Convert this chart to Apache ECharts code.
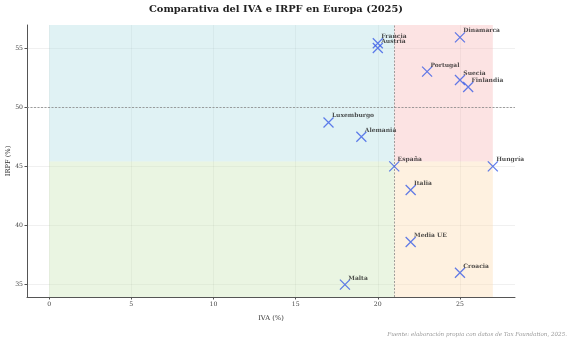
<!DOCTYPE html>
<html>
<head>
<meta charset="utf-8">
<script src="https://cdn.jsdelivr.net/npm/echarts@6/dist/echarts.min.js"></script>
<style>html,body{margin:0;padding:0;background:#fff}#c{width:576px;height:343px}</style>
</head>
<body>
<div id="c"></div>
<script>
// ---- data ----
const countries = ["Francia","Austria","Dinamarca","Portugal","Suecia","Finlandia","Luxemburgo","Alemania","España","Hungría","Italia","Media UE","Croacia","Malta"];
const iva  = [20, 20, 25, 23, 25, 25.5, 17, 19, 21, 27, 22, 22, 25, 18];
const irpf = [55.4, 55, 55.9, 53, 52.3, 51.7, 48.7, 47.5, 45, 45, 43, 38.6, 36, 35];
const xTicks = [0, 5, 10, 15, 20, 25];
const yTicks = [35, 40, 45, 50, 55];
const ivaRef = 21;      // vertical reference (España)
const irpfRef = 50;     // horizontal reference
const irpfShadeSplit = 45.4;
const shadeXMin = 0, shadeXMax = 27;
const xMin = -1.35, xMax = 28.35;
const yMin = 33.955, yMax = 56.945;

const serif = "DejaVu Serif";
const chart = echarts.init(document.getElementById('c'), null, {renderer: 'canvas'});
const pts = countries.map((n, i) => ({name: n, value: [iva[i], irpf[i]]}));

chart.setOption({
  animation: false,
  backgroundColor: '#fff',
  title: [{
    text: 'Comparativa del IVA e IRPF en Europa (2025)',
    left: 271, top: -1, textAlign: 'center',
    textStyle: {fontFamily: serif, fontWeight: 'bold', fontSize: 9.9, color: '#222'}
  }, {
    text: 'Fuente: elaboración propia con datos de Tax Foundation, 2025.',
    right: 4, top: 327,
    textStyle: {fontFamily: serif, fontStyle: 'italic', fontWeight: 'normal', fontSize: 5.6, color: '#999'}
  }],
  grid: {left: 27, right: 61, top: 25, bottom: 46, containLabel: false, outerBoundsMode: 'none'},
  xAxis: {
    type: 'value', min: xMin, max: xMax,
    name: 'IVA (%)', nameLocation: 'middle', nameGap: 18, nameMoveOverlap: false,
    nameTextStyle: {fontFamily: serif, fontSize: 6.7, color: '#333'},
    axisLine: {show: true, onZero: false, lineStyle: {color: '#555', width: 1}},
    axisTick: {show: true, length: 2.5, customValues: xTicks, lineStyle: {color: '#555'}},
    axisLabel: {customValues: xTicks, fontFamily: serif, fontSize: 6.2, color: '#444', margin: 4},
    splitLine: {show: true, lineStyle: {color: 'rgba(0,0,0,0.08)', width: 0.8}}
  },
  yAxis: {
    type: 'value', min: yMin, max: yMax,
    name: 'IRPF (%)', nameLocation: 'middle', nameGap: 15.5, nameMoveOverlap: false,
    nameTextStyle: {fontFamily: serif, fontSize: 6.7, color: '#333'},
    axisLine: {show: true, onZero: false, lineStyle: {color: '#555', width: 1}},
    axisTick: {show: true, length: 2.5, customValues: yTicks, lineStyle: {color: '#555'}},
    axisLabel: {customValues: yTicks, fontFamily: serif, fontSize: 6.2, color: '#444', margin: 4},
    splitLine: {show: true, lineStyle: {color: 'rgba(0,0,0,0.08)', width: 0.8}}
  },
  series: [{
    type: 'scatter',
    data: pts,
    symbol: 'path://M0,0L10,10M10,0L0,10',
    symbolSize: 10,
    itemStyle: {color: 'rgba(0,0,0,0)', borderColor: '#3a5ce6', borderWidth: 1.25},
    label: {
      show: true, formatter: '{b}', position: [9, -1], align: 'left', verticalAlign: 'middle',
      fontFamily: serif, fontWeight: 'bold', fontSize: 6, color: '#222'
    },
    z: 5,
    markArea: {
      silent: true,
      data: [
        [{xAxis: shadeXMin, yAxis: irpfShadeSplit, itemStyle: {color: 'rgba(178,222,228,0.4)'}}, {xAxis: ivaRef, yAxis: yMax}],
        [{xAxis: ivaRef, yAxis: irpfShadeSplit, itemStyle: {color: 'rgba(248,185,185,0.4)'}}, {xAxis: shadeXMax, yAxis: yMax}],
        [{xAxis: shadeXMin, yAxis: yMin, itemStyle: {color: 'rgba(203,230,183,0.4)'}}, {xAxis: ivaRef, yAxis: irpfShadeSplit}],
        [{xAxis: ivaRef, yAxis: yMin, itemStyle: {color: 'rgba(253,220,178,0.4)'}}, {xAxis: shadeXMax, yAxis: irpfShadeSplit}]
      ]
    },
    markLine: {
      silent: true, symbol: 'none', label: {show: false},
      lineStyle: {color: '#888', type: [2, 1.5], width: 0.8},
      data: [{xAxis: ivaRef}, {yAxis: irpfRef}]
    }
  }]
});
</script>
</body>
</html>
